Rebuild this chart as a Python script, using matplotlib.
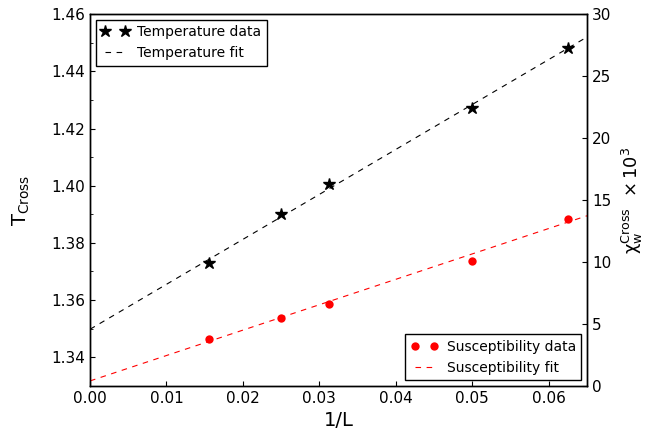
import numpy as np
import matplotlib
matplotlib.use('Agg')
import matplotlib.pyplot as plt

plt.rcParams['mathtext.default'] = 'regular'

# 1/L for L = 64, 40, 32, 20, 16
inv_L = [1/64., 1/40., 1/32., 1/20., 1/16.]
t_cross = [1.3729, 1.3900, 1.4005, 1.4273, 1.4483]
chi_cross = [3.8, 5.5, 6.6, 10.1, 13.5]   # x 10^3

# fit parameters (intercept, slope)
t_fit = [1.3498, 1.572]
chi_fit = [0.4, 205.0]

x_fit = np.linspace(0, 0.065, 100)

fig, ax1 = plt.subplots(figsize=(6.67, 4.41), dpi=100)
fig.subplots_adjust(left=0.135, right=0.88, top=0.968, bottom=0.125)

ax1.plot(inv_L, t_cross, 'k*', markersize=9, label='Temperature data')
ax1.plot(x_fit, t_fit[0] + t_fit[1]*x_fit, 'k--', lw=0.8, dashes=(5, 5), label='Temperature fit')
ax1.set_xlim(0, 0.065)
ax1.set_ylim(1.33, 1.46)
ax1.set_yticks([1.34, 1.36, 1.38, 1.40, 1.42, 1.44, 1.46])
ax1.set_yticks(np.arange(1.33, 1.46, 0.01), minor=True)
ax1.set_xticks([0.0, 0.01, 0.02, 0.03, 0.04, 0.05, 0.06])
ax1.tick_params(direction='in', labelsize=11, top=False)
ax1.tick_params(which='minor', direction='in', length=2)
ax1.set_xlabel('1/L', fontsize=14)
ax1.set_ylabel(r'T$_{Cross}$', fontsize=14, labelpad=14)
leg1 = ax1.legend(loc='upper left', numpoints=2, fancybox=False, edgecolor='k',
                  fontsize=10, borderaxespad=0.4, handletextpad=0.6, framealpha=1)
leg1.get_frame().set_linewidth(1.0)

ax2 = ax1.twinx()
ax2.plot(inv_L, chi_cross, 'ro', markersize=6, markeredgewidth=0, label='Susceptibility data')
ax2.plot(x_fit, chi_fit[0] + chi_fit[1]*x_fit, 'r--', lw=0.8, dashes=(5, 5), label='Susceptibility fit')
ax2.set_ylim(0, 30)
ax2.set_yticks([0, 5, 10, 15, 20, 25, 30])
ax2.tick_params(direction='in', labelsize=11)
ax2.set_ylabel(r'$\chi_w^{Cross}$  $\times\,10^3$', fontsize=13, labelpad=6)
leg2 = ax2.legend(loc='lower right', numpoints=2, fancybox=False, edgecolor='k',
                  fontsize=10, borderaxespad=0.4, handletextpad=0.6, framealpha=1)
leg2.get_frame().set_linewidth(1.0)

for a in (ax1, ax2):
    for s in a.spines.values():
        s.set_linewidth(1.0)

plt.savefig('out.png', dpi=100)
